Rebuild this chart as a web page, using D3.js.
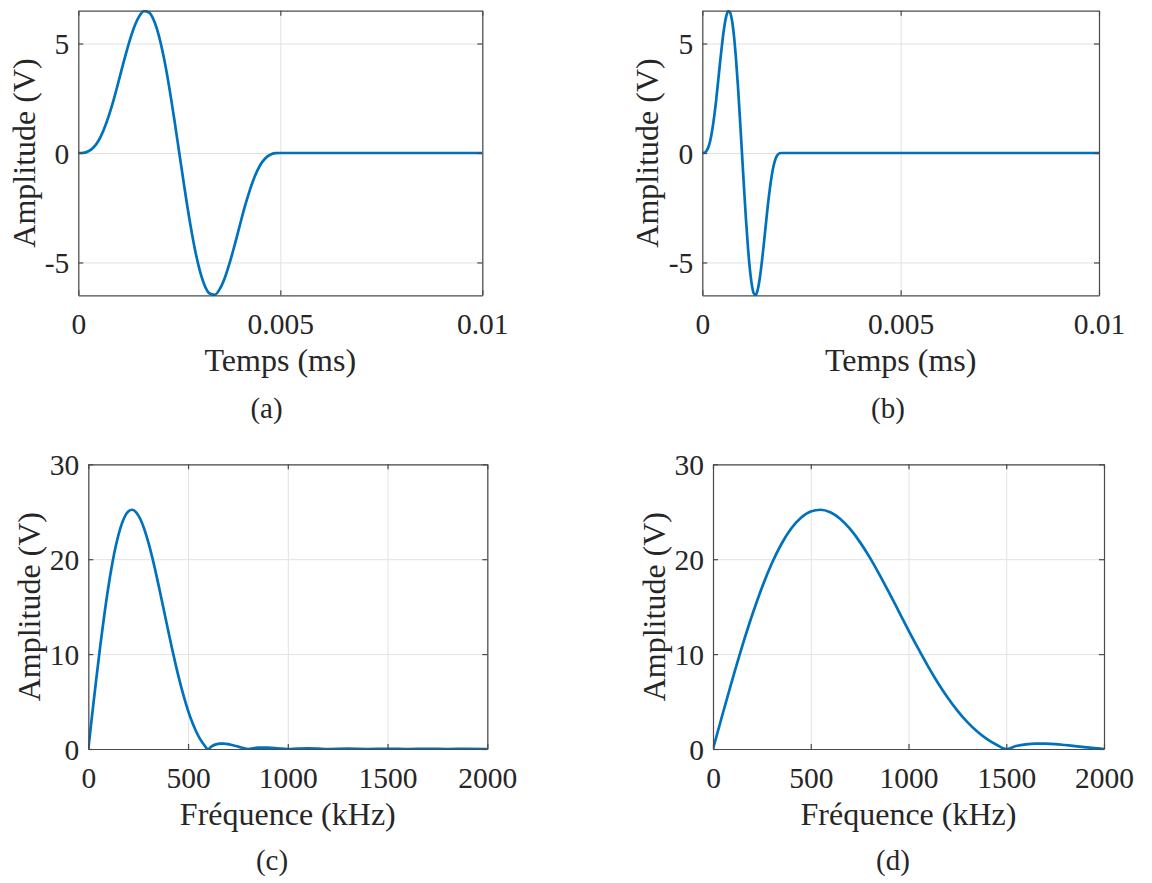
<!DOCTYPE html>
<html>
<head>
<meta charset="utf-8">
<script src="https://cdn.jsdelivr.net/npm/d3@7"></script>
<style>
  html, body { margin: 0; padding: 0; background: #fff; }
  svg { display: block; }
  text { font-family: "Liberation Serif", "Times New Roman", serif; fill: #262626; }
</style>
</head>
<body>
<svg id="chart" width="1152" height="883"></svg>
<script>
// ---- Data ----
// (a) time signal, pulse of 0.005 ms
const timeA = [0, 0.000125, 0.00025, 0.000375, 0.0005, 0.000625, 0.00075, 0.000875, 0.001, 0.001125,
  0.00125, 0.001375, 0.0015, 0.001625, 0.00175, 0.001875, 0.002, 0.002125, 0.00225, 0.002375,
  0.0025, 0.002625, 0.00275, 0.002875, 0.003, 0.003125, 0.00325, 0.003375, 0.0035, 0.003625,
  0.00375, 0.003875, 0.004, 0.004125, 0.00425, 0.004375, 0.0045, 0.004625, 0.00475, 0.004875,
  0.005, 0.01];
const ampA = [0, 0.01, 0.08, 0.25, 0.56, 1.04, 1.67, 2.43, 3.29, 4.17,
  5.00, 5.71, 6.22, 6.48, 6.42, 6.04, 5.32, 4.29, 3.01, 1.55,
  0, -1.55, -3.01, -4.29, -5.32, -6.04, -6.42, -6.48, -6.22, -5.71,
  -5.00, -4.17, -3.29, -2.43, -1.67, -1.04, -0.56, -0.25, -0.08, -0.01,
  0, 0];

// (b) time signal, pulse of 0.002 ms
const timeB = [0, 0.00005, 0.0001, 0.00015, 0.0002, 0.00025, 0.0003, 0.00035, 0.0004, 0.00045,
  0.0005, 0.00055, 0.0006, 0.00065, 0.0007, 0.00075, 0.0008, 0.00085, 0.0009, 0.00095,
  0.001, 0.00105, 0.0011, 0.00115, 0.0012, 0.00125, 0.0013, 0.00135, 0.0014, 0.00145,
  0.0015, 0.00155, 0.0016, 0.00165, 0.0017, 0.00175, 0.0018, 0.00185, 0.0019, 0.00195,
  0.002, 0.01];
const ampB = [0, 0.01, 0.08, 0.25, 0.56, 1.04, 1.67, 2.43, 3.29, 4.17,
  5.00, 5.71, 6.22, 6.48, 6.42, 6.04, 5.32, 4.29, 3.01, 1.55,
  0, -1.55, -3.01, -4.29, -5.32, -6.04, -6.42, -6.48, -6.22, -5.71,
  -5.00, -4.17, -3.29, -2.43, -1.67, -1.04, -0.56, -0.25, -0.08, -0.01,
  0, 0];

// (c) spectrum of (a)
const freqC = [0, 20, 40, 60, 80, 100, 120, 140, 160, 180,
  200, 220, 240, 260, 280, 300, 320, 340, 360, 380,
  400, 420, 440, 460, 480, 500, 520, 540, 560, 580,
  600, 620, 640, 660, 680, 700, 720, 740, 760, 780,
  800, 850, 900, 950, 1000, 1050, 1100, 1150, 1200, 1300,
  1400, 1500, 1600, 1700, 1800, 1900, 2000];
const specC = [0, 3.74, 7.39, 10.87, 14.09, 17.00, 19.52, 21.60, 23.23, 24.37,
  25.03, 25.21, 24.94, 24.26, 23.21, 21.85, 20.24, 18.43, 16.50, 14.51,
  12.51, 10.57, 8.71, 6.99, 5.43, 4.05, 2.86, 1.87, 1.07, 0.45,
  0, 0.31, 0.49, 0.57, 0.57, 0.52, 0.42, 0.31, 0.20, 0.09,
  0, 0.14, 0.15, 0.08, 0, 0.05, 0.06, 0.04, 0, 0.03,
  0, 0.02, 0, 0.01, 0, 0.01, 0];

// (d) spectrum of (b)
const freqD = [0, 50, 100, 150, 200, 250, 300, 350, 400, 450,
  500, 550, 600, 650, 700, 750, 800, 850, 900, 950,
  1000, 1050, 1100, 1150, 1200, 1250, 1300, 1350, 1400, 1450,
  1500, 1550, 1600, 1650, 1700, 1750, 1800, 1850, 1900, 1950,
  2000];
const specD = [0, 3.74, 7.39, 10.87, 14.09, 17.00, 19.52, 21.60, 23.23, 24.37,
  25.03, 25.21, 24.94, 24.26, 23.21, 21.85, 20.24, 18.43, 16.50, 14.51,
  12.51, 10.57, 8.71, 6.99, 5.43, 4.05, 2.86, 1.87, 1.07, 0.45,
  0, 0.31, 0.49, 0.57, 0.57, 0.52, 0.42, 0.31, 0.20, 0.09,
  0];

// tick values / labels
const timeTicks = [0, 0.005, 0.01];
const timeTickLabels = ["0", "0.005", "0.01"];
const voltTicksTime = [-5, 0, 5];
const voltTickLabelsTime = ["-5", "0", "5"];
const freqTicks = [0, 500, 1000, 1500, 2000];
const freqTickLabels = ["0", "500", "1000", "1500", "2000"];
const voltTicksFreq = [0, 10, 20, 30];
const voltTickLabelsFreq = ["0", "10", "20", "30"];
const timeTitle = "Temps (ms)";
const freqTitle = "Fréquence (kHz)";
const yTitle = "Amplitude (V)";
const panelLetters = ["(a)", "(b)", "(c)", "(d)"];

// ---- Layout ----
const panels = [
  { xs: timeA, ys: ampA, left: 78.3, right: 482.3, top: 10.7, bottom: 295.3,
    xDomain: [0, 0.01], yDomain: [-6.5, 6.5], xTicks: timeTicks, xLabels: timeTickLabels,
    yTicks: voltTicksTime, yLabels: voltTickLabelsTime, xTitle: timeTitle, yTitleX: 35, letterX: 266.5, letterY: 418 },
  { xs: timeB, ys: ampB, left: 702.3, right: 1099, top: 10.7, bottom: 295.3,
    xDomain: [0, 0.01], yDomain: [-6.5, 6.5], xTicks: timeTicks, xLabels: timeTickLabels,
    yTicks: voltTicksTime, yLabels: voltTickLabelsTime, xTitle: timeTitle, yTitleX: 658, letterX: 888, letterY: 418 },
  { xs: freqC, ys: specC, left: 88.3, right: 487.3, top: 464.3, bottom: 749,
    xDomain: [0, 2000], yDomain: [0, 30], xTicks: freqTicks, xLabels: freqTickLabels,
    yTicks: voltTicksFreq, yLabels: voltTickLabelsFreq, xTitle: freqTitle, yTitleX: 40, letterX: 272, letterY: 870 },
  { xs: freqD, ys: specD, left: 713, right: 1104, top: 464.3, bottom: 749,
    xDomain: [0, 2000], yDomain: [0, 30], xTicks: freqTicks, xLabels: freqTickLabels,
    yTicks: voltTicksFreq, yLabels: voltTickLabelsFreq, xTitle: freqTitle, yTitleX: 665, letterX: 893, letterY: 870 }
];

const svg = d3.select("#chart");
const axisColor = "#4a4a4a";
const gridColor = "#e2e2e2";
const lineColor = "#0072BD";
const tickFont = 29.5;
const titleFont = 32;

panels.forEach((p, i) => {
  const x = d3.scaleLinear().domain(p.xDomain).range([p.left, p.right]);
  const y = d3.scaleLinear().domain(p.yDomain).range([p.bottom, p.top]);
  const w = p.right - p.left, h = p.bottom - p.top;
  const g = svg.append("g");

  // grid
  const gx = g.append("g").attr("transform", `translate(0,${p.bottom})`)
    .call(d3.axisBottom(x).tickValues(p.xTicks).tickSize(-h).tickFormat(""));
  const gy = g.append("g").attr("transform", `translate(${p.left},0)`)
    .call(d3.axisLeft(y).tickValues(p.yTicks).tickSize(-w).tickFormat(""));
  [gx, gy].forEach(a => {
    a.select(".domain").remove();
    a.selectAll("line").attr("stroke", gridColor).attr("stroke-width", 1);
  });

  // data line
  const clipId = "clip" + i;
  svg.append("defs").append("clipPath").attr("id", clipId)
    .append("rect").attr("x", p.left).attr("y", p.top - 1).attr("width", w).attr("height", h + 2);
  const data = p.xs.map((v, k) => [v, p.ys[k]]);
  g.append("path").datum(data)
    .attr("clip-path", `url(#${clipId})`)
    .attr("fill", "none").attr("stroke", lineColor).attr("stroke-width", 2.7)
    .attr("stroke-linejoin", "round")
    .attr("d", d3.line().x(d => x(d[0])).y(d => y(d[1])).curve(d3.curveMonotoneX));

  // axes (ticks inward, box)
  const bottomAx = g.append("g").attr("transform", `translate(0,${p.bottom})`)
    .call(d3.axisBottom(x).tickValues(p.xTicks).tickSizeInner(-5).tickSizeOuter(0).tickPadding(18)
      .tickFormat((d, k) => p.xLabels[k]));
  const topAx = g.append("g").attr("transform", `translate(0,${p.top})`)
    .call(d3.axisTop(x).tickValues(p.xTicks).tickSizeInner(-5).tickSizeOuter(0).tickFormat(""));
  const leftAx = g.append("g").attr("transform", `translate(${p.left},0)`)
    .call(d3.axisLeft(y).tickValues(p.yTicks).tickSizeInner(-5).tickSizeOuter(0).tickPadding(9)
      .tickFormat((d, k) => p.yLabels[k]));
  const rightAx = g.append("g").attr("transform", `translate(${p.right},0)`)
    .call(d3.axisRight(y).tickValues(p.yTicks).tickSizeInner(-5).tickSizeOuter(0).tickFormat(""));
  [bottomAx, topAx, leftAx, rightAx].forEach(a => {
    a.select(".domain").attr("stroke", axisColor).attr("stroke-width", 1.2);
    a.selectAll(".tick line").attr("stroke", axisColor).attr("stroke-width", 1.2);
    a.selectAll("text").attr("font-family", null).attr("font-size", tickFont).attr("fill", "#262626");
  });
  leftAx.selectAll("text").attr("dy", "0.34em");

  // titles
  g.append("text").attr("x", (p.left + p.right) / 2).attr("y", p.bottom + 76)
    .attr("text-anchor", "middle").attr("font-size", titleFont).text(p.xTitle);
  g.append("text").attr("transform", `translate(${p.yTitleX},${(p.top + p.bottom) / 2}) rotate(-90)`)
    .attr("text-anchor", "middle").attr("font-size", titleFont).text(yTitle);

  // panel letter
  g.append("text").attr("x", p.letterX).attr("y", p.letterY)
    .attr("text-anchor", "middle").attr("font-size", 29).attr("fill", "#111").text(panelLetters[i]);
});
</script>
</body>
</html>
